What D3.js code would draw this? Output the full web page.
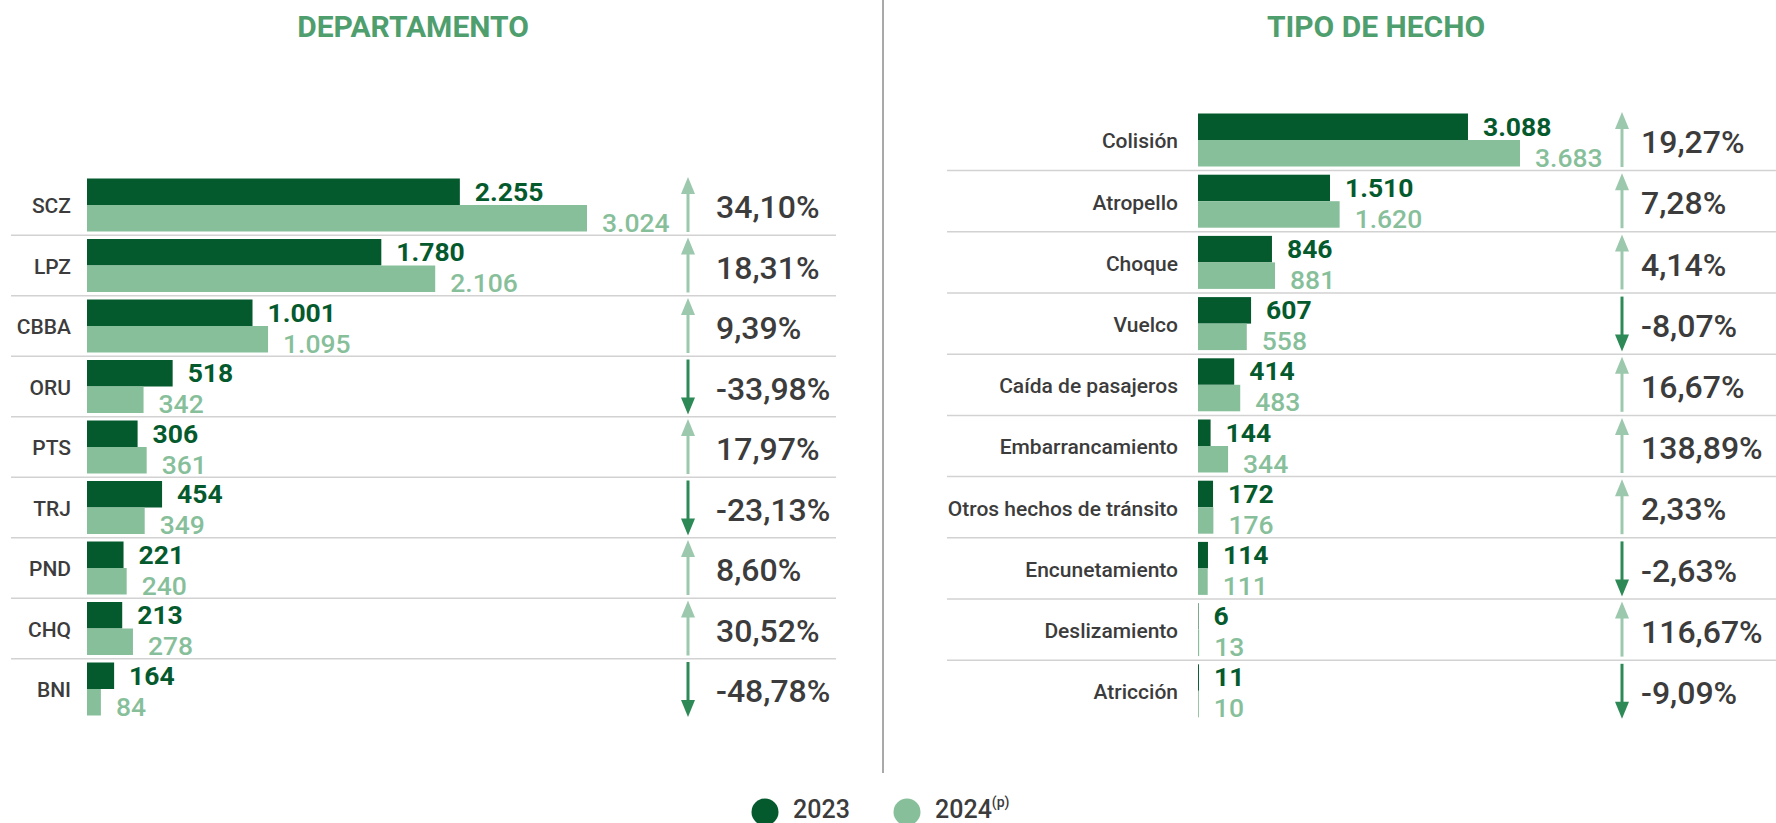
<!DOCTYPE html>
<html>
<head>
<meta charset="utf-8">
<script src="https://cdn.jsdelivr.net/npm/d3@7"></script>
<style>
  html, body { margin: 0; padding: 0; background: #fff; }
  svg { display: block; }
  text { font-family: Roboto, "Liberation Sans", sans-serif; }
</style>
</head>
<body>
<div id="chart"></div>
<script>
// datos del gráfico
const departamentos = ["SCZ", "LPZ", "CBBA", "ORU", "PTS", "TRJ", "PND", "CHQ", "BNI"];
const dep2023 = [2255, 1780, 1001, 518, 306, 454, 221, 213, 164];
const dep2024 = [3024, 2106, 1095, 342, 361, 349, 240, 278, 84];
const depVariacion = ["34,10%", "18,31%", "9,39%", "-33,98%", "17,97%", "-23,13%", "8,60%", "30,52%", "-48,78%"];

const tipos = ["Colisión", "Atropello", "Choque", "Vuelco", "Caída de pasajeros", "Embarrancamiento",
               "Otros hechos de tránsito", "Encunetamiento", "Deslizamiento", "Atricción"];
const tipo2023 = [3088, 1510, 846, 607, 414, 144, 172, 114, 6, 11];
const tipo2024 = [3683, 1620, 881, 558, 483, 344, 176, 111, 13, 10];
const tipoVariacion = ["19,27%", "7,28%", "4,14%", "-8,07%", "16,67%", "138,89%", "2,33%", "-2,63%", "116,67%", "-9,09%"];

const series = ["2023", "2024"];

// colores
const verdeOscuro = "#045a2d";
const verdeClaro = "#88bf9b";
const flechaSube = "#9cc8ad";
const flechaBaja = "#2d8a56";
const textoGris = "#3c3c3c";

const width = 1776;
const height = 823;

const svg = d3.select("#chart")
    .append("svg")
    .attr("width", width)
    .attr("height", height);

// línea divisoria central
svg.append("line")
    .attr("x1", 883).attr("x2", 883)
    .attr("y1", 0).attr("y2", 773)
    .attr("stroke", "#a9a9a9")
    .attr("stroke-width", 2);

function drawPanel(cfg) {
    const g = svg.append("g");

    const n = cfg.cats.length;
    const y = d3.scaleBand()
        .domain(cfg.cats)
        .range([cfg.firstCenter - cfg.step / 2, cfg.firstCenter + cfg.step * (n - 0.5)])
        .paddingInner(0);

    const x = d3.scaleLinear()
        .domain([0, d3.max(cfg.b)])
        .range([cfg.x0, cfg.x1]);

    const barH = 26.5;
    const rows = cfg.cats.map((c, i) => ({
        cat: c, a: cfg.a[i], b: cfg.b[i], pct: cfg.pct[i],
        cy: y(c) + y.bandwidth() / 2
    }));

    // título
    g.append("text")
        .attr("x", cfg.titleX)
        .attr("y", 37)
        .attr("text-anchor", "middle")
        .attr("fill", "#4f9e6e")
        .style("font-size", "30px")
        .style("font-weight", 700)
        .text(cfg.title);

    // separadores entre filas
    g.append("g")
        .selectAll("line")
        .data(rows.slice(1))
        .join("line")
        .attr("x1", cfg.lineX0)
        .attr("x2", cfg.lineX1)
        .attr("y1", d => y(d.cat))
        .attr("y2", d => y(d.cat))
        .attr("stroke", "#d2d2d2")
        .attr("stroke-width", 1.5);

    // etiquetas de categoría
    g.append("g")
        .selectAll("text")
        .data(rows)
        .join("text")
        .attr("x", cfg.labelX)
        .attr("y", d => d.cy + 1)
        .attr("dy", "0.35em")
        .attr("text-anchor", "end")
        .attr("fill", textoGris)
        .style("font-size", "21px")
        .style("font-weight", 500)
        .text(d => d.cat);

    // barras 2023
    g.append("g")
        .selectAll("rect")
        .data(rows)
        .join("rect")
        .attr("x", x(0))
        .attr("y", d => d.cy - barH)
        .attr("width", d => x(d.a) - x(0))
        .attr("height", barH)
        .attr("fill", verdeOscuro);

    // barras 2024
    g.append("g")
        .selectAll("rect")
        .data(rows)
        .join("rect")
        .attr("x", x(0))
        .attr("y", d => d.cy)
        .attr("width", d => x(d.b) - x(0))
        .attr("height", barH)
        .attr("fill", verdeClaro);

    const fmt = v => d3.format(",")(v).replace(/,/g, ".");

    // valores
    g.append("g")
        .selectAll("text")
        .data(rows)
        .join("text")
        .attr("x", d => x(d.a) + 15)
        .attr("y", d => d.cy - 4.5)
        .attr("fill", verdeOscuro)
        .style("font-size", "26.5px")
        .style("font-weight", 700)
        .text(d => fmt(d.a));

    g.append("g")
        .selectAll("text")
        .data(rows)
        .join("text")
        .attr("x", d => x(d.b) + 15)
        .attr("y", d => d.cy + barH)
        .attr("fill", verdeClaro)
        .style("font-size", "26.5px")
        .style("font-weight", 500)
        .text(d => fmt(d.b));

    // flechas
    const arrows = g.append("g")
        .selectAll("g")
        .data(rows)
        .join("g")
        .attr("transform", d => `translate(${cfg.arrowX},${d.cy})`);

    arrows.append("line")
        .attr("x1", 0).attr("x2", 0)
        .attr("y1", d => d.pct.startsWith("-") ? -27 : -14)
        .attr("y2", d => d.pct.startsWith("-") ? 14 : 27)
        .attr("stroke", d => d.pct.startsWith("-") ? flechaBaja : flechaSube)
        .attr("stroke-width", 3);

    arrows.append("path")
        .attr("d", d => d.pct.startsWith("-")
            ? "M-7,11 L7,11 L0,28 Z"
            : "M-7,-11 L7,-11 L0,-28 Z")
        .attr("fill", d => d.pct.startsWith("-") ? flechaBaja : flechaSube);

    // variación porcentual
    g.append("g")
        .selectAll("text")
        .data(rows)
        .join("text")
        .attr("x", cfg.pctX)
        .attr("y", d => d.cy + 2)
        .attr("dy", "0.35em")
        .attr("fill", textoGris)
        .style("font-size", "32px")
        .style("font-weight", 500)
        .text(d => d.pct);
}

drawPanel({
    title: "DEPARTAMENTO", titleX: 413,
    cats: departamentos, a: dep2023, b: dep2024, pct: depVariacion,
    firstCenter: 205, step: 60.5,
    x0: 87, x1: 587,
    labelX: 71, arrowX: 688, pctX: 716,
    lineX0: 11, lineX1: 836
});

drawPanel({
    title: "TIPO DE HECHO", titleX: 1376,
    cats: tipos, a: tipo2023, b: tipo2024, pct: tipoVariacion,
    firstCenter: 140, step: 61.2,
    x0: 1198, x1: 1520,
    labelX: 1178, arrowX: 1622, pctX: 1641,
    lineX0: 947, lineX1: 1776
});

// leyenda
const legend = svg.append("g")
    .selectAll("g")
    .data(series)
    .join("g")
    .attr("transform", (d, i) => `translate(${765 + i * 142},812)`);

legend.append("circle")
    .attr("r", 13.5)
    .attr("fill", (d, i) => i === 0 ? verdeOscuro : verdeClaro);

const legendText = legend.append("text")
    .attr("x", 28)
    .attr("y", 6)
    .attr("fill", textoGris)
    .style("font-size", "25px")
    .style("font-weight", 500)
    .text(d => d);

legendText.filter((d, i) => i === 1)
    .append("tspan")
    .attr("dy", -11)
    .style("font-size", "14px")
    .text("(p)");
</script>
</body>
</html>
